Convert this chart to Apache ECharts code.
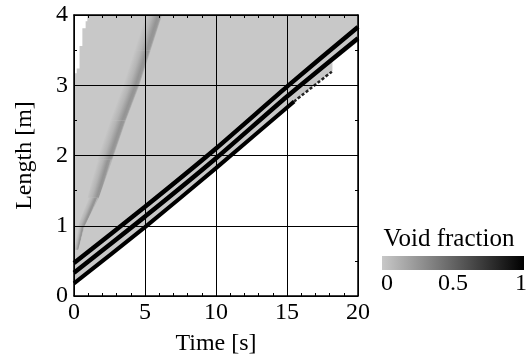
<!DOCTYPE html>
<html><head><meta charset="utf-8">
<script src="https://cdn.jsdelivr.net/npm/echarts/dist/echarts.min.js"></script>
<style>html,body{margin:0;padding:0;background:#fff}#c{width:532px;height:361px}</style>
</head><body><div id="c"></div>
<script>
// ---- data: [time s, length m] ----
const timeRange = [0, 20];
const lengthRange = [0, 4];
// outline of the region where the void fraction is ~0 (light grey)
const grayRegion = [[0,0.17],[0,3.17],[0.19,3.17],[0.19,3.24],[0.39,3.24],[0.39,3.56],[0.59,3.56],[0.59,3.81],[0.82,3.81],[0.82,3.91],[0.94,3.91],[0.94,4],[20,4],[20,3.62],[18.2,3.33],[18.2,3.2],[15,2.69],[10,1.81],[5,0.97],[0,0.17]];
// faint slanted streak (void fraction ~0.25 at its darkest)
const streakLeft  = [[0.02,0.66],[0.3,1.0],[0.95,1.4],[1.6,1.94],[2.55,2.5],[3.45,3.0],[4.25,3.5],[5.05,4.0]];
const streakRight = [[0.3,0.66],[0.75,1.0],[1.75,1.4],[2.7,1.94],[3.65,2.5],[4.6,3.0],[5.4,3.5],[6.2,4.0]];
const streakValues = [0, 0.1, 0.26, 0.24, 0.1]; // across the streak, left to right
// black bands (void fraction ~1)
const band1 = [[0,0.47],[5,1.27],[10,2.1],[15,2.98],[20,3.83]];
const band2 = [[0,0.33],[5,1.13],[10,1.96],[15,2.84],[20,3.67]];
const band3 = [[0,0.18],[5,0.98],[10,1.82],[15.5,2.77]];
const band3Tail = [[15.5,2.77],[18.2,3.2]];
const legendTicks = ['0', '0.5', '1'];

const FONT = '"Liberation Serif", "Times New Roman", serif';
const GREY0 = [200,200,200];
function vfColor(v){ const c = GREY0.map(g => Math.round(g*(1-v))); return 'rgb('+c.join(',')+')'; }

const chart = echarts.init(document.getElementById('c'), null, {renderer:'canvas'});

function grayPolygon(){
  return {type:'custom', coordinateSystem:'cartesian2d', data:[[0,0]], clip:true, silent:true, z:1,
    renderItem:(params, api) => ({type:'polygon', shape:{points: grayRegion.map(p => api.coord(p))},
      style:{fill: vfColor(0)}})};
}
function streakSeries(){
  const offs = [0, 0.4, 0.75, 0.9, 1];
  const stops = streakValues.map((v,i) => ({offset: offs[i], color: vfColor(v)}));
  return {type:'custom', coordinateSystem:'cartesian2d', data:[[0,0]], clip:true, silent:true, z:2,
    renderItem:(params, api) => {
      const children = [];
      for (let i = 0; i < streakLeft.length - 1; i++){
        const L0 = api.coord(streakLeft[i]), L1 = api.coord(streakLeft[i+1]);
        const R0 = api.coord(streakRight[i]), R1 = api.coord(streakRight[i+1]);
        let dx = (L1[0]+R1[0]-L0[0]-R0[0])/2, dy = (L1[1]+R1[1]-L0[1]-R0[1])/2;
        const len = Math.hypot(dx, dy); dx /= len; dy /= len;
        const nx = -dy, ny = dx;
        const Lm = [(L0[0]+L1[0])/2, (L0[1]+L1[1])/2], Rm = [(R0[0]+R1[0])/2, (R0[1]+R1[1])/2];
        const w = (Rm[0]-Lm[0])*nx + (Rm[1]-Lm[1])*ny;
        children.push({type:'polygon', shape:{points:[L0, L1, R1, R0]},
          style:{fill:new echarts.graphic.LinearGradient(Lm[0], Lm[1], Lm[0]+nx*w, Lm[1]+ny*w, stops, true),
                 stroke:null}});
      }
      return {type:'group', children};
    }};
}
function bandSeries(data, width, color, type){
  return {type:'line', data:data, symbol:'none', silent:true, z:5, clip:true, smooth:0.2,
    lineStyle:{color:color, width:width, type:type||'solid', cap:'butt'}};
}

const FS = 24;
const axisCommon = {
  type:'value', axisLine:{show:true, onZero:false, lineStyle:{color:'#000', width:1.5}},
  axisTick:{show:true, inside:true, length:3, lineStyle:{color:'#000'}},
  minorTick:{show:true, length:3, lineStyle:{color:'#000', width:1}},
  axisLabel:{color:'#000', fontFamily:FONT, fontSize:FS},
  nameTextStyle:{color:'#000', fontFamily:FONT, fontSize:FS}
};

chart.setOption({
  animation:false,
  backgroundColor:'#fff',
  grid:{left:74, right:174, top:15, bottom:65, containLabel:false},
  xAxis:[
    Object.assign({}, axisCommon, {min:timeRange[0], max:timeRange[1], interval:5, position:'bottom',
      name:'Time [s]', nameLocation:'middle', nameGap:36,
      minorTick:Object.assign({}, axisCommon.minorTick, {splitNumber:5}),
      axisLabel:Object.assign({}, axisCommon.axisLabel, {margin:5}),
      splitLine:{show:true, lineStyle:{color:'#000', width:1}}, z:10}),
    Object.assign({}, axisCommon, {min:timeRange[0], max:timeRange[1], interval:5, position:'top',
      minorTick:Object.assign({}, axisCommon.minorTick, {splitNumber:5}),
      axisLabel:{show:false}, splitLine:{show:false}, z:10})
  ],
  yAxis:[
    Object.assign({}, axisCommon, {min:lengthRange[0], max:lengthRange[1], interval:1, position:'left',
      name:'Length [m]', nameLocation:'middle', nameGap:37,
      minorTick:Object.assign({}, axisCommon.minorTick, {splitNumber:2}),
      axisLabel:Object.assign({}, axisCommon.axisLabel, {margin:6}),
      splitLine:{show:true, lineStyle:{color:'#000', width:1}}, z:10}),
    Object.assign({}, axisCommon, {min:lengthRange[0], max:lengthRange[1], interval:1, position:'right',
      minorTick:Object.assign({}, axisCommon.minorTick, {splitNumber:2}),
      axisLabel:{show:false}, splitLine:{show:false}, z:10})
  ],
  series:[
    grayPolygon(),
    streakSeries(),
    bandSeries(band1, 4.5, '#000'),
    bandSeries(band2, 4.5, '#000'),
    bandSeries(band3, 4, '#000'),
    bandSeries(band3Tail, 2.5, '#222', [3,2])
  ],
  graphic:[
    {type:'text', x:449, y:239, z:20, style:{text:'Void fraction', font:'25px '+FONT, fill:'#000', align:'center', verticalAlign:'middle'}},
    {type:'rect', z:20, shape:{x:382, y:256, width:142, height:14},
      style:{fill:new echarts.graphic.LinearGradient(0,0,1,0,[{offset:0,color:vfColor(0)},{offset:1,color:vfColor(1)}])}},
    {type:'text', x:387, y:284, z:20, style:{text:legendTicks[0], font:FS+'px '+FONT, fill:'#000', align:'center', verticalAlign:'middle'}},
    {type:'text', x:453, y:284, z:20, style:{text:legendTicks[1], font:FS+'px '+FONT, fill:'#000', align:'center', verticalAlign:'middle'}},
    {type:'text', x:521, y:284, z:20, style:{text:legendTicks[2], font:FS+'px '+FONT, fill:'#000', align:'center', verticalAlign:'middle'}}
  ]
});
</script></body></html>
